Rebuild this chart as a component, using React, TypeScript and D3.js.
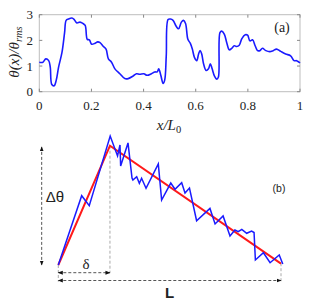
import React from "react";
import * as d3 from "d3";

// panel (a): theta(x)/theta_rms vs x/L0
const profileX = [0, 0.014, 0.025, 0.036, 0.042, 0.048, 0.057, 0.065, 0.074, 0.087, 0.097, 0.103, 0.112, 0.125, 0.134, 0.144, 0.156, 0.167, 0.176, 0.184, 0.192, 0.201, 0.214, 0.224, 0.233, 0.246, 0.256, 0.265, 0.277, 0.29, 0.309, 0.328, 0.341, 0.36, 0.373, 0.385, 0.401, 0.413, 0.43, 0.443, 0.452, 0.458, 0.466, 0.475, 0.481, 0.487, 0.494, 0.503, 0.513, 0.525, 0.534, 0.545, 0.553, 0.561, 0.57, 0.579, 0.587, 0.595, 0.604, 0.611, 0.617, 0.623, 0.63, 0.64, 0.649, 0.656, 0.663, 0.672, 0.681, 0.687, 0.693, 0.7, 0.71, 0.719, 0.729, 0.738, 0.748, 0.757, 0.767, 0.777, 0.79, 0.799, 0.808, 0.818, 0.828, 0.837, 0.846, 0.856, 0.869, 0.884, 0.897, 0.91, 0.926, 0.945, 0.964, 0.977, 0.987, 1.0];
const profileY = [1.15, 1.15, 1.28, 1.21, 0.96, 0.28, 0.23, 0.45, 0.96, 1.53, 2.3, 2.78, 2.83, 2.87, 2.81, 2.68, 2.71, 2.66, 2.58, 2.04, 2.02, 1.85, 1.89, 1.94, 1.91, 1.76, 1.66, 1.28, 1.15, 0.89, 0.7, 0.51, 0.51, 0.61, 0.7, 0.68, 0.7, 0.64, 0.7, 0.77, 0.77, 0.89, 0.64, 0.32, 0.45, 1.4, 2.81, 2.83, 2.78, 2.55, 2.45, 2.71, 2.78, 2.66, 2.04, 1.89, 1.66, 1.34, 1.21, 1.47, 1.6, 1.47, 1.09, 0.83, 0.89, 1.09, 0.89, 0.61, 0.49, 0.57, 2.3, 2.36, 2.23, 1.91, 1.63, 1.69, 1.79, 1.76, 1.81, 2.07, 2.22, 2.2, 1.98, 2.02, 1.79, 1.6, 1.6, 1.69, 1.6, 1.56, 1.6, 1.66, 1.57, 1.47, 1.4, 1.21, 1.21, 1.12];
const xTicks = [0, 0.2, 0.4, 0.6, 0.8, 1];
const yTicks = [0, 1, 2, 3];

// panel (b): sketch of a ramp, in units of L (x) and delta-theta (y), both 0..100
const rampX = [0, 10.5, 13.9, 23.3, 26.6, 27.7, 28.0, 31.3, 33.1, 33.5, 35.2, 36.4, 37.4, 39.4, 44.9, 46.4, 50.5, 52.4, 55.4, 56.9, 58.9, 62.1, 68.1, 70.4, 74, 77.1, 79.3, 80.8, 82.4, 84.6, 86.8, 87.9, 88.5, 92.1, 95.1, 99.2, 100.8];
const rampY = [0, 58.1, 49.7, 108.1, 91.4, 100.6, 83, 102.3, 72.9, 71.2, 74, 68.5, 72.7, 64.3, 84.7, 54.5, 68.7, 63.5, 69, 60.4, 64.5, 37.1, 47.4, 34.4, 41.1, 24.3, 29.3, 27.9, 29.9, 26.6, 28.5, 27.2, 4.2, 10.3, 1.9, 8.4, 0.8];
const fitX = [0, 23.2, 100];
const fitY = [0, 100, 1.2];

const W = 317;
const H = 303;
const serif = "'Liberation Serif', 'DejaVu Serif', serif";
const sans = "'Liberation Sans', Arial, sans-serif";

const App = () => {
  const x = d3.scaleLinear().domain([0, 1]).range([39.3, 300]);
  const y = d3.scaleLinear().domain([0, 3]).range([91.7, 14.7]);
  const profile = d3
    .line<number>()
    .x((d, i) => x(profileX[i]))
    .y((d) => y(d))
    .curve(d3.curveCatmullRom.alpha(0.5));

  const xb = d3.scaleLinear().domain([0, 100]).range([58.3, 281]);
  const yb = d3.scaleLinear().domain([0, 100]).range([265, 145.7]);
  const ramp = d3
    .line<number>()
    .x((d, i) => xb(rampX[i]))
    .y((d) => yb(d));
  const fit = d3
    .line<number>()
    .x((d, i) => xb(fitX[i]))
    .y((d) => yb(d));

  const dash = "#555";
  const peakX = xb(fitX[1]);
  const arrowL = xb(0) - 16.6;

  return (
    <svg width={W} height={H} style={{ position: "absolute", left: 0, top: 0, background: "#fff" }}>
      <defs>
        <marker id="ah" viewBox="0 0 10 10" refX="9" refY="5" markerWidth="5" markerHeight="5" orient="auto-start-reverse">
          <path d="M0,1 L10,5 L0,9 z" fill="#111" />
        </marker>
      </defs>

      {/* panel (a) */}
      <rect x={x(0)} y={y(3)} width={x(1) - x(0)} height={y(0) - y(3)} fill="none" stroke="#bdbdbd" strokeWidth={1} />
      {xTicks.map((t) => (
        <g key={"xt" + t}>
          <line x1={x(t)} x2={x(t)} y1={y(0)} y2={y(0) - 3} stroke="#888" />
          <line x1={x(t)} x2={x(t)} y1={y(3)} y2={y(3) + 3} stroke="#888" />
          <text x={x(t)} y={110} textAnchor="middle" fontFamily={serif} fontSize={13} fill="#222">
            {t}
          </text>
        </g>
      ))}
      {yTicks.map((t) => (
        <g key={"yt" + t}>
          <line x1={x(0)} x2={x(0) + 3} y1={y(t)} y2={y(t)} stroke="#888" />
          <line x1={x(1)} x2={x(1) - 3} y1={y(t)} y2={y(t)} stroke="#888" />
          <text x={33} y={y(t) + 4.5} textAnchor="end" fontFamily={serif} fontSize={13} fill="#222">
            {t}
          </text>
        </g>
      ))}
      <path d={profile(profileY) || ""} fill="none" stroke="#1a1aff" strokeWidth={1.6} />
      <text x={282} y={32} textAnchor="middle" fontFamily={serif} fontSize={14} fill="#222">
        (a)
      </text>
      <text x={169} y={129.5} textAnchor="middle" fontFamily={serif} fontSize={15} fontStyle="italic" fill="#222">
        x/L<tspan fontSize={10.5} dy={3} fontStyle="normal">0</tspan>
      </text>
      <text transform="translate(19,52) rotate(-90)" textAnchor="middle" fontFamily={serif} fontSize={15} fontStyle="italic" fill="#222">
        θ(x)/θ<tspan fontSize={10.5} dy={3}>rms</tspan>
      </text>

      {/* panel (b) */}
      <line x1={arrowL} x2={arrowL} y1={yb(99)} y2={yb(0)} stroke={dash} strokeDasharray="3,2" markerStart="url(#ah)" markerEnd="url(#ah)" />
      <line x1={peakX} x2={peakX} y1={yb(100)} y2={yb(-6.8)} stroke="#aaa" strokeDasharray="3,2" />
      <line x1={xb(0)} x2={xb(0)} y1={yb(0)} y2={yb(-14)} stroke="#aaa" strokeDasharray="3,2" />
      <line x1={xb(100)} x2={xb(100)} y1={yb(1.5)} y2={yb(-14)} stroke="#aaa" strokeDasharray="3,2" />
      <line x1={xb(0)} x2={peakX} y1={272.7} y2={272.7} stroke={dash} strokeDasharray="3,2" markerStart="url(#ah)" markerEnd="url(#ah)" />
      <line x1={xb(0)} x2={xb(100)} y1={280.5} y2={280.5} stroke={dash} strokeDasharray="3,2" markerStart="url(#ah)" markerEnd="url(#ah)" />
      <path d={fit(fitY) || ""} fill="none" stroke="#ff1a1a" strokeWidth={2} />
      <path d={ramp(rampY) || ""} fill="none" stroke="#1a1aff" strokeWidth={1.5} strokeLinejoin="miter" />
      <text x={55} y={202} textAnchor="middle" fontFamily={sans} fontSize={15} fill="#222">
        Δθ
      </text>
      <text x={86} y={269} textAnchor="middle" fontFamily={serif} fontSize={15} fill="#222">
        δ
      </text>
      <text x={169.5} y={298} textAnchor="middle" fontFamily={sans} fontSize={15} fontWeight="bold" fill="#222">
        L
      </text>
      <text x={279} y={192} textAnchor="middle" fontFamily={sans} fontSize={10.5} fill="#222">
        (b)
      </text>
    </svg>
  );
};

export default App;
